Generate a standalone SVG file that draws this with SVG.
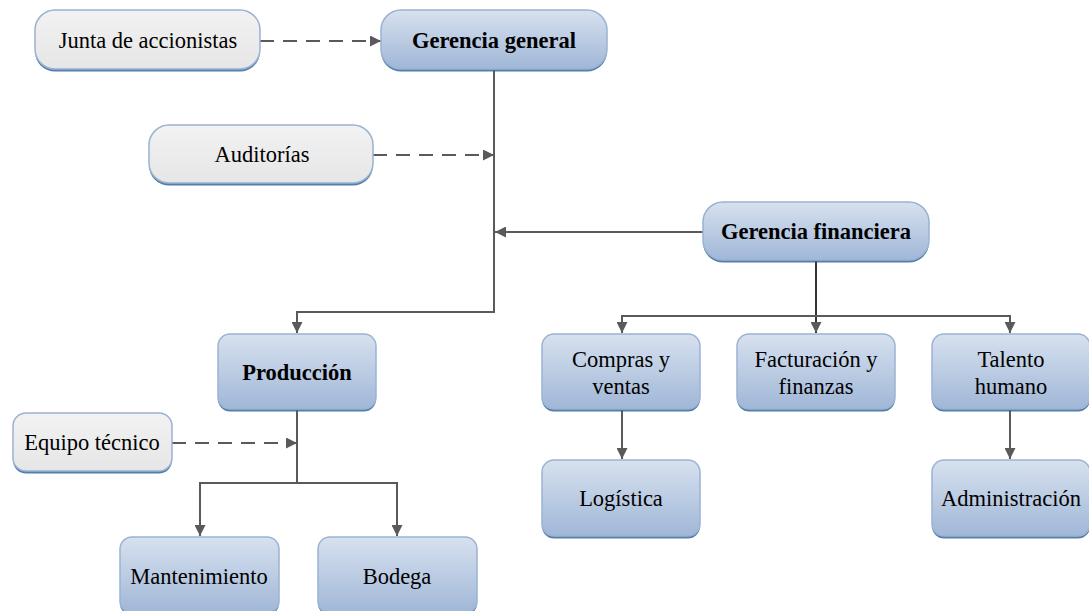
<svg xmlns="http://www.w3.org/2000/svg" width="1089" height="611" viewBox="0 0 1089 611" font-family="Liberation Serif, DejaVu Serif, serif" font-size="22.5">
  <style>
    .box { stroke: #9bb3d2; stroke-width: 1.5; }
    .blue { fill: url(#gBlue); }
    .gray { fill: url(#gGray); }
    .shadow { fill: #36699b; opacity: 0.85; }
    .lbl { fill: #000; text-anchor: middle; }
    .bold { font-weight: bold; }
    .line { fill: none; stroke: #5a5a5a; stroke-width: 2; }
    .dash { stroke-dasharray: 14 9; }
  </style>
  <defs>
    <linearGradient id="gBlue" x1="0" y1="0" x2="0" y2="1">
      <stop offset="0" stop-color="#d7e1ef"/>
      <stop offset="1" stop-color="#a0b7d7"/>
    </linearGradient>
    <linearGradient id="gGray" x1="0" y1="0" x2="0" y2="1">
      <stop offset="0" stop-color="#f2f2f2"/>
      <stop offset="1" stop-color="#e6e6e6"/>
    </linearGradient>
    <marker id="arr" viewBox="0 0 10 10" refX="10" refY="5" markerWidth="5.5" markerHeight="5.5" orient="auto" markerUnits="strokeWidth">
      <path d="M0,0 L10,5 L0,10 Z" fill="#5a5a5a"/>
    </marker>
  </defs>

  <!-- connectors -->
  <g id="connectors">
    <path class="line dash" d="M260,41 H381" marker-end="url(#arr)"/>
    <path class="line" d="M494,70 V312 H297 V333" marker-end="url(#arr)"/>
    <path class="line dash" d="M373,155 H494" marker-end="url(#arr)"/>
    <path class="line" d="M703,232 H495" marker-end="url(#arr)"/>
    <path class="line" d="M816,261 V333" marker-end="url(#arr)" style="stroke:#333"/>
    <path class="line" d="M622,333 V316 H1010 V333"/>
    <path class="line" d="M622,320 V333" marker-end="url(#arr)"/>
    <path class="line" d="M1010,320 V333" marker-end="url(#arr)"/>
    <path class="line" d="M622,410 V459" marker-end="url(#arr)"/>
    <path class="line" d="M1010,410 V459" marker-end="url(#arr)"/>
    <path class="line dash" d="M172,443 H297" marker-end="url(#arr)"/>
    <path class="line" d="M297,410 V483"/>
    <path class="line" d="M200,536 V483 H397 V536"/>
    <path class="line" d="M200,520 V536" marker-end="url(#arr)"/>
    <path class="line" d="M397,520 V536" marker-end="url(#arr)"/>
  </g>

  <g id="junta">
    <rect class="shadow" x="35" y="12.5" width="225" height="59" rx="20"/>
    <rect class="box gray" x="35" y="10" width="225" height="59" rx="20"/>
    <text class="lbl" x="148" y="48">Junta de accionistas</text>
  </g>
  <g id="gerencia-general">
    <rect class="shadow" x="381" y="12.5" width="226" height="59" rx="20"/>
    <rect class="box blue" x="381" y="10" width="226" height="59" rx="20"/>
    <text class="lbl bold" x="494" y="48">Gerencia general</text>
  </g>
  <g id="auditorias">
    <rect class="shadow" x="149" y="127.5" width="224" height="58" rx="20"/>
    <rect class="box gray" x="149" y="125" width="224" height="58" rx="20"/>
    <text class="lbl" x="262" y="162">Auditorías</text>
  </g>
  <g id="gerencia-financiera">
    <rect class="shadow" x="703" y="204.5" width="226" height="58" rx="20"/>
    <rect class="box blue" x="703" y="202" width="226" height="58" rx="20"/>
    <text class="lbl bold" x="816" y="239">Gerencia financiera</text>
  </g>
  <g id="produccion">
    <rect class="shadow" x="218" y="336.5" width="158" height="75" rx="12"/>
    <rect class="box blue" x="218" y="334" width="158" height="75" rx="12"/>
    <text class="lbl bold" x="297" y="380">Producción</text>
  </g>
  <g id="compras">
    <rect class="shadow" x="542" y="336.5" width="158" height="75" rx="12"/>
    <rect class="box blue" x="542" y="334" width="158" height="75" rx="12"/>
    <text class="lbl" x="621" y="367">Compras y</text>
    <text class="lbl" x="621" y="394">ventas</text>
  </g>
  <g id="facturacion">
    <rect class="shadow" x="737" y="336.5" width="158" height="75" rx="12"/>
    <rect class="box blue" x="737" y="334" width="158" height="75" rx="12"/>
    <text class="lbl" x="816" y="367">Facturación y</text>
    <text class="lbl" x="816" y="394">finanzas</text>
  </g>
  <g id="talento">
    <rect class="shadow" x="932" y="336.5" width="158" height="75" rx="12"/>
    <rect class="box blue" x="932" y="334" width="158" height="75" rx="12"/>
    <text class="lbl" x="1011" y="367">Talento</text>
    <text class="lbl" x="1011" y="394">humano</text>
  </g>
  <g id="logistica">
    <rect class="shadow" x="542" y="462.5" width="158" height="76" rx="12"/>
    <rect class="box blue" x="542" y="460" width="158" height="76" rx="12"/>
    <text class="lbl" x="621" y="506">Logística</text>
  </g>
  <g id="administracion">
    <rect class="shadow" x="932" y="462.5" width="158" height="76" rx="12"/>
    <rect class="box blue" x="932" y="460" width="158" height="76" rx="12"/>
    <text class="lbl" x="1011" y="506">Administración</text>
  </g>
  <g id="equipo">
    <rect class="shadow" x="13" y="415.5" width="159" height="58" rx="13"/>
    <rect class="box gray" x="13" y="413" width="159" height="58" rx="13"/>
    <text class="lbl" x="92" y="450">Equipo técnico</text>
  </g>
  <g id="mantenimiento">
    <rect class="shadow" x="120" y="539.5" width="159" height="76" rx="12"/>
    <rect class="box blue" x="120" y="537" width="159" height="76" rx="12"/>
    <text class="lbl" x="199" y="584">Mantenimiento</text>
  </g>
  <g id="bodega">
    <rect class="shadow" x="318" y="539.5" width="159" height="76" rx="12"/>
    <rect class="box blue" x="318" y="537" width="159" height="76" rx="12"/>
    <text class="lbl" x="397" y="584">Bodega</text>
  </g>
</svg>
